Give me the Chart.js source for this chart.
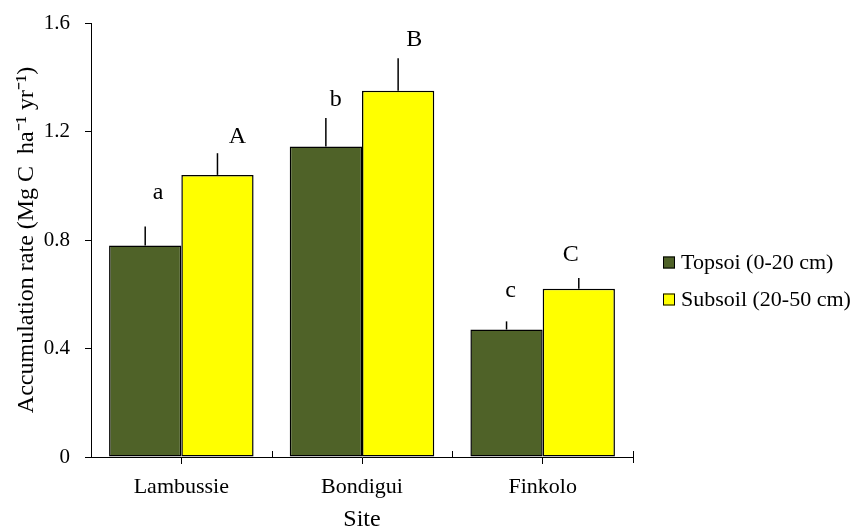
<!DOCTYPE html>
<html>
<head>
<meta charset="utf-8">
<title>Accumulation rate by site</title>
<script src="https://cdn.jsdelivr.net/npm/chart.js@4.4.1/dist/chart.umd.min.js"></script>
<style>
  html, body { margin: 0; padding: 0; background: #fff; }
  #chart { display: block; }
</style>
</head>
<body>
<canvas id="chart" width="857" height="530"></canvas>
<script>
const sites = ["Lambussie", "Bondigui", "Finkolo"];
const seriesNames = ["Topsoi (0-20 cm)", "Subsoil (20-50 cm)"];
const topsoil = [0.78, 1.145, 0.47];
const subsoil = [1.04, 1.35, 0.62];
const topsoilErr = [0.07, 0.105, 0.03];
const subsoilErr = [0.08, 0.12, 0.04];
const topsoilLetters = ["a", "b", "c"];
const subsoilLetters = ["A", "B", "C"];

const FONT = "'Liberation Serif', 'Times New Roman', serif";
const GREEN = "#4f6228";
const YELLOW = "#ffff00";

// letters were placed by hand in the original, so nudge each one a bit
// (dx from bar centre, dy = baseline distance above the error bar tip)
const letterNudge = [
  [{ dx: 13, dy: 27 }, { dx: 10, dy: 12 }, { dx: 4, dy: 24 }],
  [{ dx: 20, dy: 10 }, { dx: 16, dy: 12 }, { dx: -8, dy: 17 }],
];

const errorBarsPlugin = {
  id: "errorBars",
  afterDatasetsDraw(chart) {
    const ctx = chart.ctx;
    const yScale = chart.scales.y;
    chart.data.datasets.forEach((ds, di) => {
      const meta = chart.getDatasetMeta(di);
      meta.data.forEach((bar, i) => {
        const tip = yScale.getPixelForValue(ds.data[i] + ds.errors[i]);
        ctx.save();
        ctx.strokeStyle = "#000";
        ctx.lineWidth = 1.5;
        ctx.beginPath();
        ctx.moveTo(bar.x, bar.y);
        ctx.lineTo(bar.x, tip);
        ctx.stroke();

        const n = letterNudge[di][i];
        ctx.fillStyle = "#000";
        ctx.font = "24px " + FONT;
        ctx.textAlign = "center";
        ctx.textBaseline = "alphabetic";
        ctx.fillText(ds.letters[i], bar.x + n.dx, tip - n.dy);
        ctx.restore();
      });
    });
  },
};

// small upward ticks between the categories, like the Excel axis
const boundaryTicksPlugin = {
  id: "boundaryTicks",
  afterDraw(chart) {
    const ctx = chart.ctx;
    const xScale = chart.scales.x;
    const axisY = chart.chartArea.bottom;
    ctx.save();
    ctx.strokeStyle = "#000";
    ctx.lineWidth = 1;
    for (let i = 0; i < sites.length; i++) {
      const px = Math.round(xScale.getPixelForValue(i + 0.5)) + 0.5;
      const last = i === sites.length - 1;
      ctx.beginPath();
      ctx.moveTo(px, axisY - 6);
      ctx.lineTo(px, last ? axisY + 6 : axisY);
      ctx.stroke();
    }
    ctx.restore();
  },
};

const sideLegendPlugin = {
  id: "sideLegend",
  afterDraw(chart) {
    const ctx = chart.ctx;
    const area = chart.chartArea;
    const left = area.right + 30;
    const midY = (area.top + area.bottom) / 2 + 41;
    const rowGap = 37;
    ctx.save();
    chart.data.datasets.forEach((ds, i) => {
      const cy = midY + (i - 0.5) * rowGap;
      ctx.fillStyle = ds.backgroundColor;
      ctx.fillRect(left, cy - 6, 12, 12);
      ctx.strokeStyle = "#000";
      ctx.lineWidth = 1;
      ctx.strokeRect(left + 0.5, cy - 5.5, 11, 11);
      ctx.fillStyle = "#000";
      ctx.font = "22px " + FONT;
      ctx.textAlign = "left";
      ctx.textBaseline = "middle";
      ctx.fillText(ds.label, left + 18, cy + 1);
    });
    ctx.restore();
  },
};

new Chart(document.getElementById("chart"), {
  type: "bar",
  data: {
    labels: sites,
    datasets: [
      {
        label: seriesNames[0],
        data: topsoil,
        errors: topsoilErr,
        letters: topsoilLetters,
        backgroundColor: GREEN,
        borderColor: "#000",
        borderWidth: 1.5,
        borderSkipped: false,
        categoryPercentage: 0.8,
        barPercentage: 1.0,
      },
      {
        label: seriesNames[1],
        data: subsoil,
        errors: subsoilErr,
        letters: subsoilLetters,
        backgroundColor: YELLOW,
        borderColor: "#000",
        borderWidth: 1.5,
        borderSkipped: false,
        categoryPercentage: 0.8,
        barPercentage: 1.0,
      },
    ],
  },
  options: {
    responsive: false,
    animation: false,
    layout: { padding: { top: 23, right: 224, bottom: 0, left: 0 } },
    plugins: {
      legend: { display: false },
      tooltip: { enabled: false },
    },
    scales: {
      x: {
        offset: true,
        grid: {
          offset: false,
          drawOnChartArea: false,
          drawTicks: true,
          tickLength: 7,
          color: "#000",
        },
        border: { color: "#000", width: 1 },
        ticks: { color: "#000", font: { family: FONT, size: 22 }, padding: 10 },
        title: {
          display: true,
          text: "Site",
          color: "#000",
          font: { family: FONT, size: 24 },
          padding: { top: 0, bottom: -4 },
        },
        afterFit(scale) {
          scale.height = 73;
        },
      },
      y: {
        min: 0,
        max: 1.6,
        ticks: {
          stepSize: 0.4,
          color: "#000",
          font: { family: FONT, size: 21 },
          padding: 15,
          callback: (v) => (v === 0 ? "0" : v.toFixed(1)),
        },
        grid: { drawOnChartArea: false, tickLength: 6, color: "#000" },
        border: { color: "#000", width: 1 },
        title: {
          display: true,
          text: "Accumulation rate (Mg C  ha\u207B\u00B9 yr\u207B\u00B9)",
          color: "#000",
          font: { family: FONT, size: 24 },
          padding: { top: 12, bottom: 0 },
        },
        afterFit(scale) {
          scale.width = 91;
          scale.paddingTop = 0;
          scale.paddingBottom = 0;
        },
      },
    },
  },
  plugins: [errorBarsPlugin, boundaryTicksPlugin, sideLegendPlugin],
});
</script>
</body>
</html>
